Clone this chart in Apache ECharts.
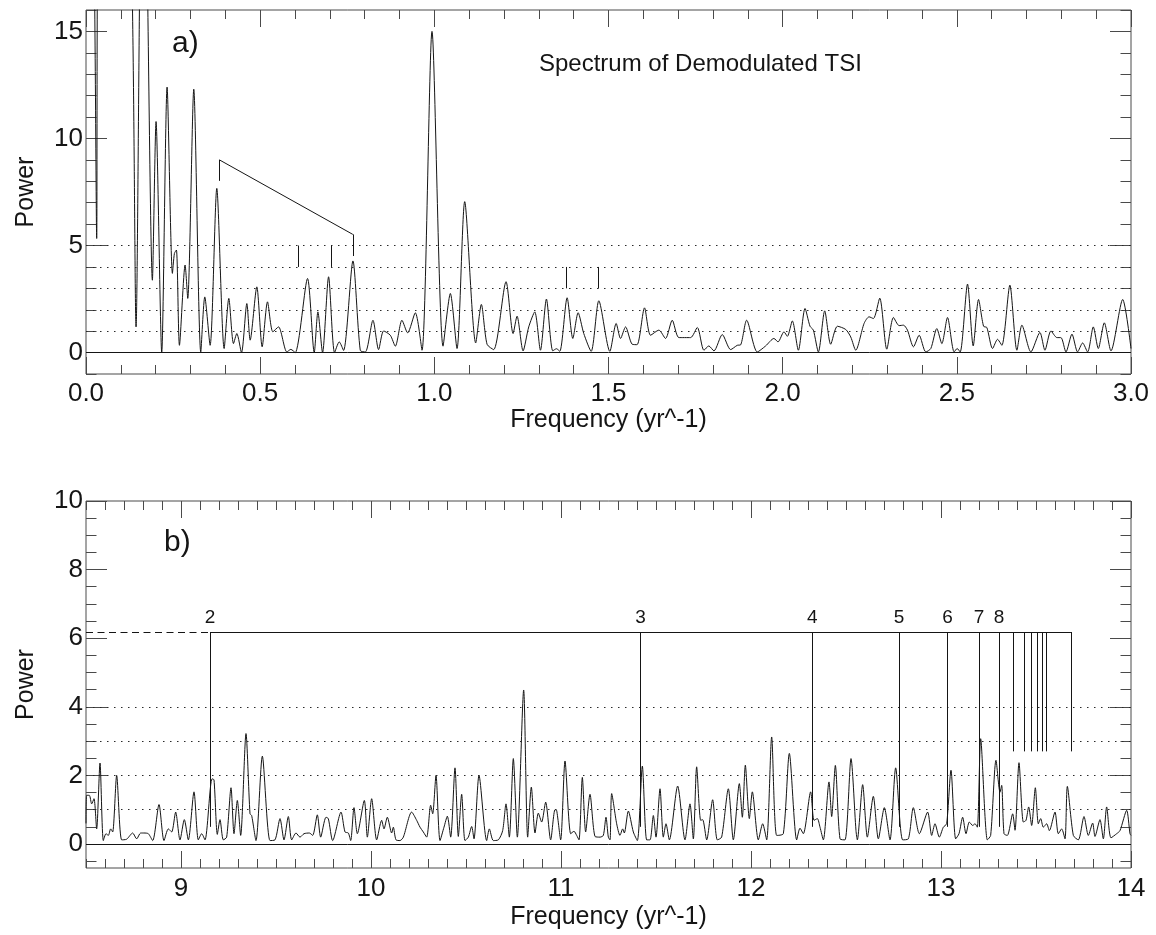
<!DOCTYPE html>
<html>
<head>
<meta charset="utf-8">
<script src="https://cdn.jsdelivr.net/npm/echarts@6/dist/echarts.min.js"></script>
<style>
  html, body { margin: 0; padding: 0; background: #ffffff; }
  #chart { width: 1156px; height: 935px; }
</style>
</head>
<body>
<div id="chart"></div>
<script>
// ---- Panel a: spectrum of demodulated TSI, 0-3 yr^-1 ----
const freqA = [
  0.000,0.022,0.0307,0.034,0.080,0.128,0.1437,0.156,0.166,0.174,
  0.1906,0.2011,0.2174,0.2328,0.2481,0.2538,0.2596,0.2682,0.2845,0.2921,
  0.3094,0.3295,0.341,0.3563,0.3755,0.3966,0.410,0.4234,0.433,0.4464,
  0.4617,0.4713,0.4904,0.5057,0.5211,0.5364,0.5527,0.5766,0.5881,0.6006,
  0.636,0.6552,0.6657,0.6791,0.6964,0.7136,0.727,0.7395,0.7663,0.7874,
  0.802,0.8238,0.840,0.8544,0.8736,0.888,0.907,0.9234,0.9454,0.9646,
  0.9933,1.025,1.046,1.0651,1.0872,1.1188,1.135,1.1513,1.1705,1.2059,
  1.2261,1.2375,1.2548,1.271,1.2883,1.3046,1.3218,1.340,1.3506,1.3602,
  1.3812,1.3975,1.4128,1.429,1.4502,1.4722,1.5038,1.522,1.5345,1.549,
  1.568,1.582,1.6034,1.6207,1.6446,1.6638,1.683,1.7021,1.7356,1.755,
  1.7739,1.788,1.8027,1.8266,1.8506,1.8697,1.8793,1.8966,1.9272,1.9511,
  1.975,1.9866,2.0038,2.0134,2.0278,2.0451,2.0642,2.0785,2.0881,2.1025,
  2.1207,2.1379,2.1571,2.181,2.1954,2.2098,2.2337,2.2481,2.2605,2.2787,
  2.2989,2.318,2.3343,2.3468,2.3582,2.3755,2.3918,2.4109,2.4253,2.4425,
  2.457,2.4732,2.4923,2.5009,2.5096,2.5307,2.547,2.5623,2.5767,2.5862,
  2.6025,2.6169,2.6293,2.6523,2.6724,2.6868,2.7126,2.7385,2.7529,2.7701,
  2.7874,2.7989,2.8133,2.8305,2.8467,2.8611,2.8755,2.8918,2.9061,2.9234,
  2.9425,2.9761,3.0
];
const powerA = [
  30,20,5.33,20,30,20,1.2,20,26,20,
  3.38,10.79,0.0,12.4,3.70,4.63,4.79,0.34,4.09,2.53,
  12.3,0.02,2.6,0.34,7.67,0.19,2.53,0.42,0.89,0.0,
  2.29,0.58,3.07,0.27,2.37,0.97,1.2,0.03,0.15,0.0,
  3.46,0.0,1.9,0.0,3.54,0.0,0.5,0.1,4.28,0.1,
  0.03,1.51,0.14,1.01,0.81,0.3,1.51,0.92,1.86,0.11,
  15.0,0.3,2.76,0.19,7.05,0.45,2.25,0.39,0.14,3.31,
  0.89,1.7,0.08,1.2,1.9,0.11,2.5,0.08,0.18,0.06,
  2.56,0.66,1.86,0.89,0.06,2.42,0.06,1.36,0.66,1.2,
  0.39,0.37,2.09,0.81,1.05,0.66,1.51,0.7,0.7,1.17,
  0.11,0.31,0.08,0.84,0.14,0.34,0.36,1.51,0.03,0.31,
  0.66,0.5,0.97,0.76,1.48,0.11,2.06,1.23,1.05,0.03,
  1.95,0.39,1.23,1.08,0.73,0.11,1.36,1.67,1.59,2.54,
  0.16,1.64,1.26,1.28,1.05,0.27,0.81,0.03,0.19,1.12,
  0.42,1.64,0.03,0.19,0.03,3.2,0.31,2.48,1.23,1.17,
  0.19,0.62,0.34,3.15,0.11,1.28,0.03,0.94,0.11,1.01,
  0.7,0.7,0.03,0.86,0.03,0.45,0.03,1.2,0.19,1.39,
  0.08,2.48,0.19
];

// ---- Panel b: spectrum, 8.5-14 yr^-1 ----
const freqB = [
  8.500,8.5035,8.5175,8.5298,8.5421,8.5561,8.5737,8.5912,8.6053,8.6175,
  8.6298,8.6404,8.6614,8.6877,8.7140,8.7456,8.7667,8.7877,8.8053,8.8281,
  8.8509,8.8842,8.9105,8.9333,8.9509,8.9719,8.9947,9.0175,9.0386,9.0684,
  9.0912,9.1088,9.1263,9.1632,9.1737,9.1912,9.2053,9.2228,9.2404,9.2632,
  9.2789,9.2965,9.3140,9.3421,9.3632,9.3719,9.3947,9.4281,9.4684,9.4947,
  9.5211,9.5421,9.5649,9.5825,9.6053,9.6263,9.6474,9.6754,9.6930,9.7175,
  9.7351,9.7632,9.7754,9.7982,9.8421,9.8632,9.8807,9.8930,9.9105,9.9281,
  9.9649,9.9807,10.0035,10.0298,10.0561,10.0684,10.0860,10.1088,10.1175,10.1316,
  10.1526,10.1702,10.2140,10.2404,10.2579,10.2754,10.2930,10.3140,10.3246,10.3421,
  10.3632,10.3842,10.4018,10.4193,10.4421,10.4596,10.4772,10.4947,10.5123,10.5298,
  10.5421,10.5684,10.6088,10.6228,10.6439,10.6702,10.6930,10.7105,10.7281,10.7491,
  10.7702,10.8035,10.8246,10.8439,10.8632,10.8807,10.8982,10.9193,10.9456,10.9684,
  10.9772,10.9982,11.0211,11.0509,11.0684,11.0825,11.0947,11.1123,11.1298,11.1526,
  11.1789,11.2053,11.2228,11.2368,11.2491,11.2579,11.2667,11.2930,11.3105,11.3246,
  11.3333,11.3544,11.3807,11.4018,11.4281,11.4509,11.4684,11.4860,11.5000,11.5211,
  11.5386,11.5526,11.5702,11.6140,11.6526,11.6789,11.6965,11.7140,11.7351,11.7456,
  11.7667,11.7982,11.8228,11.8456,11.8807,11.9070,11.9386,11.9544,11.9702,11.9912,
  12.0070,12.0386,12.0614,12.0825,12.1088,12.1351,12.1702,12.2018,12.2404,12.2579,
  12.2754,12.3140,12.3316,12.3491,12.3632,12.3807,12.4105,12.4246,12.4439,12.4684,
  12.4947,12.5263,12.5526,12.5596,12.5877,12.6123,12.6439,12.6702,12.7018,12.7316,
  12.7614,12.7982,12.8281,12.8544,12.8860,12.9298,12.9509,12.9684,12.9912,13.0123,
  13.0298,13.0526,13.0772,13.0947,13.1140,13.1316,13.1491,13.1667,13.1789,13.1912,
  13.2088,13.2439,13.2614,13.2895,13.3105,13.3193,13.3316,13.3491,13.3772,13.3895,
  13.4105,13.4333,13.4474,13.4614,13.4772,13.4965,13.5123,13.5246,13.5386,13.5561,
  13.5702,13.6000,13.6175,13.6351,13.6526,13.6649,13.6965,13.7228,13.7526,13.7754,
  13.7982,13.8105,13.8368,13.8544,13.8719,13.8947,13.9246,13.9421,13.9772,13.9947,
  14.0
];
const powerB = [
  0.6,1.42,1.42,1.17,1.32,0.44,2.36,0.1,0.3,0.25,
  0.44,0.35,2.0,0.12,0.14,0.32,0.15,0.32,0.32,0.3,
  0.1,1.15,0.1,0.44,0.35,0.93,0.12,0.71,0.12,1.52,
  0.12,0.3,0.12,1.9,1.87,0.28,0.71,0.12,0.2,1.64,
  0.3,1.27,0.25,3.22,0.88,0.83,0.1,2.56,0.1,0.12,
  0.74,0.12,0.8,0.12,0.32,0.2,0.3,0.32,0.25,0.85,
  0.2,0.78,0.74,0.1,0.93,0.35,0.32,0.1,1.06,0.3,
  1.27,0.2,1.32,0.12,0.69,0.44,0.78,0.32,0.49,0.12,
  0.1,0.2,0.93,0.69,0.49,0.35,0.2,1.13,0.88,2.0,
  0.1,0.49,0.81,0.2,2.22,0.22,1.45,0.1,0.2,0.51,
  0.15,2.0,0.1,0.44,0.1,0.12,0.39,1.17,0.2,2.49,
  0.2,4.49,0.2,1.66,0.32,0.9,0.64,1.22,0.12,1.0,
  0.98,0.12,2.42,0.3,0.37,0.25,0.12,1.94,0.35,1.45,
  0.22,0.2,0.25,0.78,0.2,0.12,1.47,0.59,0.25,0.44,
  0.32,0.96,0.35,0.1,2.27,0.12,0.12,0.83,0.2,1.61,
  0.2,0.59,0.12,1.69,0.12,1.17,0.15,2.25,0.69,0.71,
  0.12,1.29,0.12,0.2,1.61,0.12,1.76,0.78,2.3,0.74,
  1.52,0.12,0.59,0.12,3.12,0.25,0.3,2.64,0.12,0.46,
  0.3,1.52,0.69,0.74,0.49,0.12,1.81,0.8,2.29,0.15,
  0.12,2.49,0.39,0.12,1.73,0.2,1.39,0.15,1.06,0.12,
  2.22,0.12,0.15,1.06,0.3,0.93,0.25,0.59,0.2,0.49,
  0.59,2.15,0.15,0.3,0.78,0.3,0.64,0.54,0.59,0.49,
  3.07,0.12,0.25,2.44,1.51,1.71,0.3,0.25,0.88,0.4,
  2.37,0.64,0.69,1.08,0.54,1.64,0.59,0.74,0.49,0.59,
  0.39,0.93,0.3,0.44,0.15,1.68,0.25,0.12,0.8,0.25,
  0.61,0.22,0.71,0.15,1.08,0.18,0.3,0.39,0.98,0.3,
  0.25
];

// ---- axis ranges and ticks ----
const xRangeA = [0, 3];
const yRangeA = [-1, 16];
const xRangeB = [8.5, 14];
const yRangeB = [-0.7, 10];
const xTickLabelsA = [0.0, 0.5, 1.0, 1.5, 2.0, 2.5, 3.0];
const yTickLabelsA = [0, 5, 10, 15];
const xTickLabelsB = [9, 10, 11, 12, 13, 14];
const yTickLabelsB = [0, 2, 4, 6, 8, 10];
const xMinorStepA = 0.1, yMinorStepA = 1;
const xMinorStepB = 0.1, yMinorStepB = 0.5;

// ---- reference levels ----
const dottedLevelsA = [1, 2, 3, 4, 5];
const dottedLevelsB = [1, 2, 3, 4];

// ---- panel a annotations: bracket and short markers ----
const bracketFreq = [0.383, 0.383, 0.766, 0.766];
const bracketPower = [8.02, 9.0, 5.52, 4.51];
const markerFreqA = [0.610, 0.703, 1.379, 1.470];
const markerTopA = [5, 5, 4, 4];
const markerBottomA = [4, 4, 3, 3];

// ---- panel b annotations: harmonic comb ----
const combFreqs = [9.153, 11.419, 12.323, 12.779, 13.035, 13.200, 13.305,
                   13.381, 13.437, 13.477, 13.509, 13.535, 13.553, 13.684];
const combBottoms = [0.5, 0.5, 0.5, 0.5, 0.5, 0.5, 0.5,
                     2.7, 2.7, 2.7, 2.7, 2.7, 2.7, 2.7];
const combLabels = ['2', '3', '4', '5', '6', '7', '8', '', '', '', '', '', '', ''];
const combLevel = 6.18;

// ---------------------------------------------------------------
const FONT = '"Liberation Sans", Arial, Helvetica, sans-serif';
const INK = '#151515';
const FRAME = '#4a4a4a';

function steps(min, max, step) {
  const out = [];
  const n = Math.round((max - min) / step);
  for (let i = 0; i <= n; i++) out.push(+(min + i * step).toFixed(6));
  return out;
}
function firstMultiple(min, step) {
  return Math.ceil(min / step - 1e-9) * step;
}

function xAxes(grid, range, labels, minorStep, fmt, name, labelMargin, nameGap) {
  const minors = steps(firstMultiple(range[0], minorStep), range[1], minorStep);
  const base = {
    gridIndex: grid, type: 'value', min: range[0], max: range[1],
    axisLine: { show: false, onZero: false }, splitLine: { show: false }
  };
  const tick = (len, vals) => ({ show: true, inside: true, length: len, customValues: vals,
    lineStyle: { color: FRAME, width: 1 } });
  return [
    Object.assign({}, base, {
      position: 'bottom', axisTick: tick(17, labels),
      axisLabel: { show: true, customValues: labels, formatter: fmt, margin: labelMargin,
        fontSize: 26, color: INK, fontFamily: FONT },
      name: name, nameLocation: 'middle', nameGap: nameGap,
      nameTextStyle: { fontSize: 25, color: INK, fontFamily: FONT }
    }),
    Object.assign({}, base, { position: 'bottom', axisTick: tick(9, minors), axisLabel: { show: false } }),
    Object.assign({}, base, { position: 'top', axisTick: tick(17, labels), axisLabel: { show: false } }),
    Object.assign({}, base, { position: 'top', axisTick: tick(9, minors), axisLabel: { show: false } })
  ];
}
function yAxes(grid, range, labels, minorStep, name) {
  const minors = steps(firstMultiple(range[0], minorStep), range[1], minorStep);
  const base = {
    gridIndex: grid, type: 'value', min: range[0], max: range[1],
    axisLine: { show: false, onZero: false }, splitLine: { show: false }
  };
  const tick = (len, vals) => ({ show: true, inside: true, length: len, customValues: vals,
    lineStyle: { color: FRAME, width: 1 } });
  return [
    Object.assign({}, base, {
      position: 'left', axisTick: tick(21, labels),
      axisLabel: { show: true, customValues: labels, margin: 3,
        fontSize: 26, color: INK, fontFamily: FONT },
      name: name, nameLocation: 'middle', nameGap: 47,
      nameTextStyle: { fontSize: 25, color: INK, fontFamily: FONT }
    }),
    Object.assign({}, base, { position: 'left', axisTick: tick(10.5, minors), axisLabel: { show: false } }),
    Object.assign({}, base, { position: 'right', axisTick: tick(21, labels), axisLabel: { show: false } }),
    Object.assign({}, base, { position: 'right', axisTick: tick(10.5, minors), axisLabel: { show: false } })
  ];
}

const dotted = { type: [1.5, 5.5], color: '#2a2a2a', width: 1 };
const solid = { type: 'solid', color: INK, width: 1 };

function levelLines(levels) {
  return levels.map(v => ({ yAxis: v, lineStyle: dotted }))
    .concat([{ yAxis: 0, lineStyle: solid }]);
}
function seg(x1, y1, x2, y2, style, label) {
  const a = { coord: [x1, y1], lineStyle: style };
  if (label) a.label = label;
  const b = { coord: [x2, y2], lineStyle: style };
  if (label) b.label = label;
  return [a, b];
}

// panel a annotation segments
const annotA = [];
for (let i = 0; i < bracketFreq.length - 1; i++) {
  annotA.push(seg(bracketFreq[i], bracketPower[i], bracketFreq[i + 1], bracketPower[i + 1], solid));
}
markerFreqA.forEach((f, i) => annotA.push(seg(f, markerBottomA[i], f, markerTopA[i], solid)));

// panel b comb segments
const annotB = [];
annotB.push(seg(xRangeB[0], combLevel, combFreqs[0], combLevel,
  { type: [7, 4.5], color: INK, width: 1 }));
annotB.push(seg(combFreqs[0], combLevel, combFreqs[combFreqs.length - 1], combLevel, solid));
combFreqs.forEach((f, i) => {
  const lab = combLabels[i]
    ? { show: true, position: 'end', formatter: combLabels[i], distance: 5,
        fontSize: 19, color: INK, fontFamily: FONT }
    : { show: false };
  annotB.push(seg(f, combBottoms[i], f, combLevel, solid, lab));
});

const chart = echarts.init(document.getElementById('chart'), null, { renderer: 'canvas' });

const option = {
  animation: false,
  backgroundColor: '#ffffff',
  grid: [
    { left: 86, top: 10, width: 1045, height: 364, show: true, borderColor: FRAME, borderWidth: 1, backgroundColor: 'transparent' },
    { left: 86, top: 501, width: 1045, height: 367, show: true, borderColor: FRAME, borderWidth: 1, backgroundColor: 'transparent' }
  ],
  xAxis: [].concat(
    xAxes(0, xRangeA, xTickLabelsA, xMinorStepA, v => Number(v).toFixed(1), 'Frequency (yr^-1)', 7, 34),
    xAxes(1, xRangeB, xTickLabelsB, xMinorStepB, v => String(Math.round(v)), 'Frequency (yr^-1)', 8, 37)
  ),
  yAxis: [].concat(
    yAxes(0, yRangeA, yTickLabelsA, yMinorStepA, 'Power'),
    yAxes(1, yRangeB, yTickLabelsB, yMinorStepB, 'Power')
  ),
  graphic: [
    { type: 'text', left: 172, top: 29, style: { text: 'a)', fontSize: 30, fill: INK, fontFamily: FONT } },
    { type: 'text', left: 539, top: 52, style: { text: 'Spectrum of Demodulated TSI', fontSize: 24, fill: INK, fontFamily: FONT } },
    { type: 'text', left: 164, top: 528, style: { text: 'b)', fontSize: 30, fill: INK, fontFamily: FONT } }
  ],
  series: [
    {
      name: 'spectrum a', type: 'line', xAxisIndex: 0, yAxisIndex: 0,
      data: freqA.map((f, i) => [f, powerA[i]]),
      showSymbol: false, smooth: 0.25, clip: true, silent: true,
      lineStyle: { color: INK, width: 1 },
      markLine: {
        silent: true, symbol: ['none', 'none'], animation: false,
        label: { show: false },
        emphasis: { disabled: true },
        data: levelLines(dottedLevelsA).concat(annotA)
      }
    },
    {
      name: 'spectrum b', type: 'line', xAxisIndex: 4, yAxisIndex: 4,
      data: freqB.map((f, i) => [f, powerB[i]]),
      showSymbol: false, smooth: 0.25, clip: true, silent: true,
      lineStyle: { color: INK, width: 1 },
      markLine: {
        silent: true, symbol: ['none', 'none'], animation: false,
        label: { show: false },
        emphasis: { disabled: true },
        data: levelLines(dottedLevelsB).concat(annotB)
      }
    }
  ]
};
chart.setOption(option);
</script>
</body>
</html>
